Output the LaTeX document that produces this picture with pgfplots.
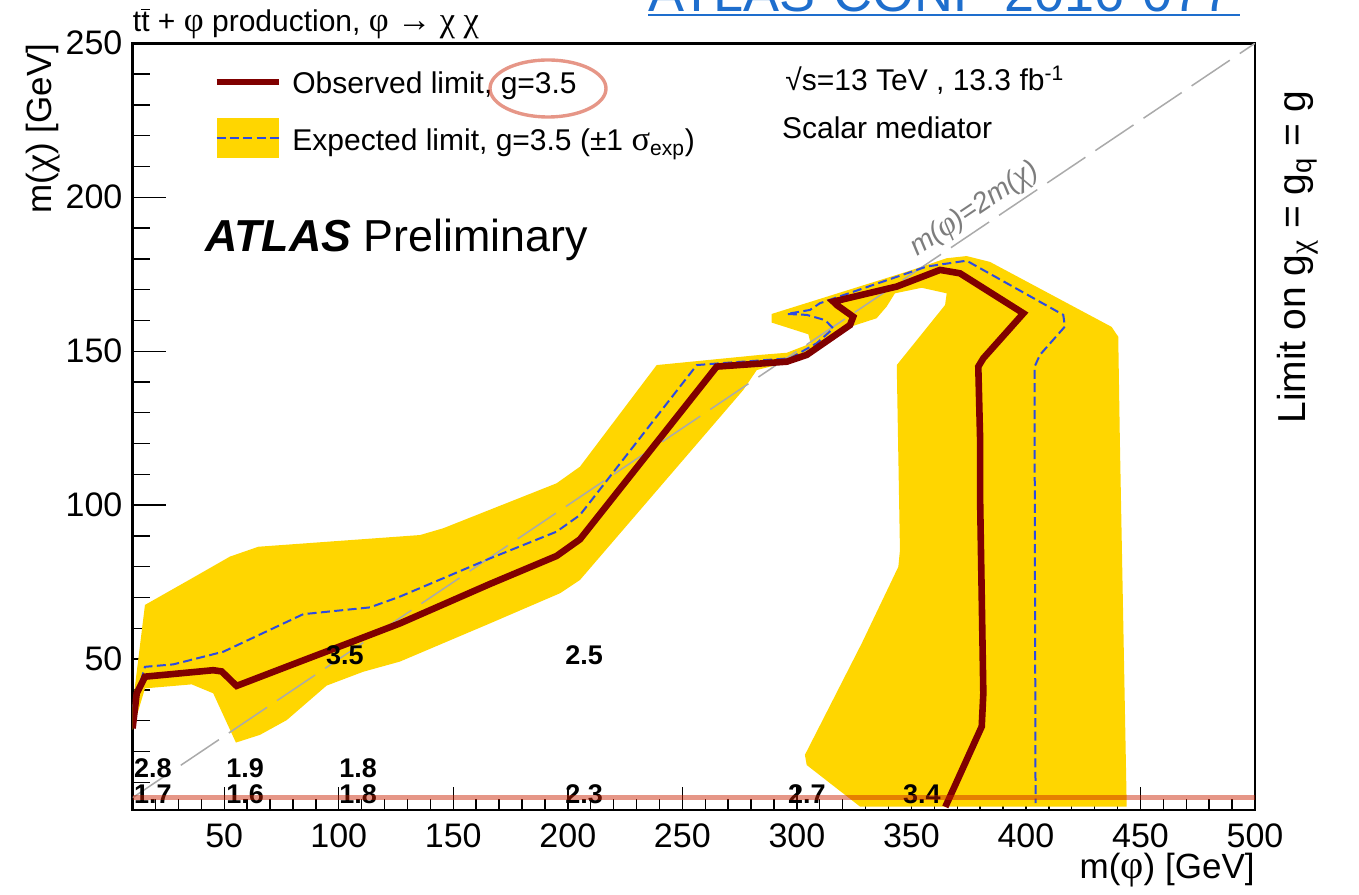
\documentclass[border=0pt]{standalone}
\usepackage{pgfplots}
\pgfplotsset{compat=1.18}
\usepackage{fontspec}
\setmainfont{Liberation Sans}
\newfontfamily\grk{Liberation Serif}[Scale=1.15]
\definecolor{band}{RGB}{255,214,0}
\definecolor{obsred}{RGB}{128,0,0}
\definecolor{expblue}{RGB}{45,75,225}
\definecolor{diag}{RGB}{170,170,170}
\definecolor{diagtxt}{RGB}{125,125,125}
\definecolor{salmon}{RGB}{202,32,0}
\definecolor{linkblue}{RGB}{30,110,205}
\begin{document}
\begin{tikzpicture}
\begin{axis}[
  scale only axis, width=561.2pt, height=383.35pt,
  xmin=10, xmax=500, ymin=1, ymax=250,
  xtick={50,100,...,500}, ytick={50,100,...,250},
  minor xtick={20,30,...,490}, minor ytick={10,20,...,240},
  tick align=inside, tick pos=left,
  axis line style={line width=1.3pt},
  every tick/.append style={black, line width=0.7pt},
  xtick style={/pgfplots/major tick length=11.5pt, /pgfplots/minor tick length=5.75pt},
  ytick style={/pgfplots/major tick length=16.5pt, /pgfplots/minor tick length=8.5pt},
  /pgf/number format/assume math mode=true,
  ticklabel style={font=\fontsize{17}{20}\selectfont},
  xticklabel style={anchor=base, yshift=-18.5pt, inner sep=0pt},
  yticklabel style={anchor=east, xshift=-4.9pt, inner sep=0pt},
  xlabel={m({\grk φ}) [GeV]},
  ylabel={m({\grk χ}) [GeV]},
  label style={font=\fontsize{17.5}{20}\selectfont, inner sep=0pt},
  x label style={at={(axis description cs:1,-0.0887)}, anchor=base east},
  y label style={at={(axis description cs:-0.0727,1)}, anchor=base east},
]
% +-1 sigma expected band
\addplot[fill=band, draw=none] coordinates {
(10,27) (10,35) (15.4,67.6) (35.8,76.2) (52.5,83.3) (64.9,86.5) (135.5,90.3)
(145.6,92.5) (195.1,107.1) (205.3,112.5) (238.8,145.5) (283.9,148.8) (295.6,149.5)
(306,152.5) (305,155.5) (289,159.3) (289,162.1) (347.9,175.8) (365.4,180.2)
(374.1,180.9) (384.3,179) (437.4,157.9) (440.3,154.7) (441,121.2) (444,2.1)
(327.6,2.1) (304.3,15.6) (303.5,18.9) (328.3,55.1) (344.3,80) (345,85.4)
(343.6,145.5) (364.7,165) (365.4,168.8) (354.5,170.6) (342.8,168.8) (339.2,164.5)
(334.8,160.7) (323.2,157.9) (314.5,153.6) (305.7,149.9) (295.6,146.3) (282.5,143.9)
(276.6,137.4) (205.3,75.7) (196.6,71.4) (166,61.6) (126.7,49.2) (110.7,45.9)
(94.7,41.4) (77.3,30.2) (65.6,25.4) (55.1,22.9) (45.2,38.9) (35.8,41.8) (15.4,40.5)
};
% m(phi) = 2 m(chi)
\addplot[diag, line width=0.75pt, dash pattern=on 23pt off 6pt] coordinates {(10,5) (500,250)};
% expected limit
\addplot[expblue, line width=1pt, dash pattern=on 4.5pt off 2.2pt] coordinates {
(10.3,34.5) (15.4,47.5) (27.8,48.3) (49.6,52.4) (84.5,64.6) (113.6,66.8) (126.7,70.3)
(166,82.7) (195.1,91.4) (205.3,96.8) (256.3,145.5) (265,146) (297,147.7) (308.7,152.6)
(315.9,157.4) (312.3,160.1) (304.3,161.8) (295.6,162.1) (305.7,163.4) (310.1,165.6)
(356.7,177.5) (374.1,179.4) (416.3,161.8) (417,158) (406.1,148.8) (403.8,145)
(403.8,121.2) (404.2,3.2)
};
% observed limit
\addplot[obsred, line width=3.3pt] coordinates {
(10,27.5) (11.8,38.9) (15.4,44.3) (45.2,46.4) (48.9,46.0) (55.4,41.3) (83.1,49.2)
(107.8,56.2) (126.7,61.6) (166,74.4) (195.1,83.5) (205.3,88.9) (265,145) (295.6,146.6)
(304.3,148.8) (323.2,158.5) (324.6,161.2) (317.4,165) (315.9,166.1) (343.6,171)
(362.5,176.4) (371.2,175.3) (398.9,162.3) (381.4,147.7) (379.2,145) (380,121.2)
(380,101.7) (381.4,38.9) (380.7,28.1) (364.8,2)
};
% coupling limits
\begin{scope}[every node/.style={font=\fontsize{13.5}{16}\selectfont\bfseries, anchor=base, inner sep=0pt}]
\node at (axis cs:102.7,48.1) {3.5};
\node at (axis cs:207.1,48.1) {2.5};
\node at (axis cs:18.9,11.6) {2.8};
\node at (axis cs:59.1,11.6) {1.9};
\node at (axis cs:108.5,11.6) {1.8};
\node at (axis cs:18.9,3.2) {1.7};
\node at (axis cs:59.1,3.2) {1.6};
\node at (axis cs:108.5,3.2) {1.8};
\node at (axis cs:207.1,3.2) {2.3};
\node at (axis cs:304.4,3.2) {2.7};
\node at (axis cs:354.6,3.2) {3.4};
\end{scope}
\draw[salmon, draw opacity=0.47, line width=2.5pt] (axis cs:10,5.1) -- (axis cs:500,5.1);
\end{axis}
% title and texts
\node[anchor=base west, inner sep=0pt, font=\fontsize{15}{18}\selectfont] at (0pt,389.15pt)
  {t\ensuremath{\overline{\mbox{t}}} + {\grk φ} production, {\grk φ} {\grk →} {\grk χ} {\grk χ}};
\node[anchor=base west, inner sep=0pt, font=\fontsize{27}{30}\selectfont, text=linkblue] at (257.7pt,399.15pt)
  {ATLAS-CONF-2016-077};
\draw[linkblue, line width=0.8pt] (257.7pt,397.5pt) -- (553.7pt,397.5pt);
% legend
\draw[obsred, line width=3.3pt] (41.95pt,364pt) -- (73.2pt,364pt);
\node[anchor=base west, inner sep=0pt, font=\fontsize{15}{18}\selectfont] at (79.7pt,358pt)
  {Observed limit, g=3.5};
\fill[band] (41.95pt,326pt) rectangle (73.2pt,346pt);
\draw[expblue, line width=1pt, dash pattern=on 4.5pt off 2.2pt] (41.95pt,336pt) -- (73.2pt,336pt);
\node[anchor=base west, inner sep=0pt, font=\fontsize{15}{18}\selectfont] at (79.7pt,329.65pt)
  {Expected limit, g=3.5 (±1 {\grk σ}\textsubscript{exp})};
\draw[salmon, draw opacity=0.47, line width=1.7pt] (207.7pt,360.75pt) ellipse [x radius=29pt, y radius=14.25pt];
\node[anchor=base west, inner sep=0pt, font=\fontsize{22.4}{26}\selectfont] at (36.2pt,279pt)
  {{\bfseries\itshape ATLAS} Preliminary};
\node[anchor=base west, inner sep=0pt, font=\fontsize{15}{18}\selectfont] at (326.2pt,359.65pt)
  {√s=13 TeV , 13.3 fb\textsuperscript{-1}};
\node[anchor=base west, inner sep=0pt, font=\fontsize{15}{18}\selectfont] at (324.55pt,335.85pt)
  {Scalar mediator};
\node[anchor=base west, inner sep=0pt, rotate=33.9, text=diagtxt, font=\fontsize{14}{16}\selectfont\itshape] at (392.05pt,276.65pt)
  {m({\grk φ})=2m({\grk χ})};
\node[anchor=base, inner sep=0pt, rotate=90, font=\fontsize{19.5}{22}\selectfont] at (586.2pt,276.3pt)
  {Limit on g\textsubscript{\grk χ} = g\textsubscript{q} = g};
\pgfresetboundingbox
\path[use as bounding box] (-66.3pt,-42pt) rectangle (613.2pt,405pt);
\end{tikzpicture}
\end{document}
